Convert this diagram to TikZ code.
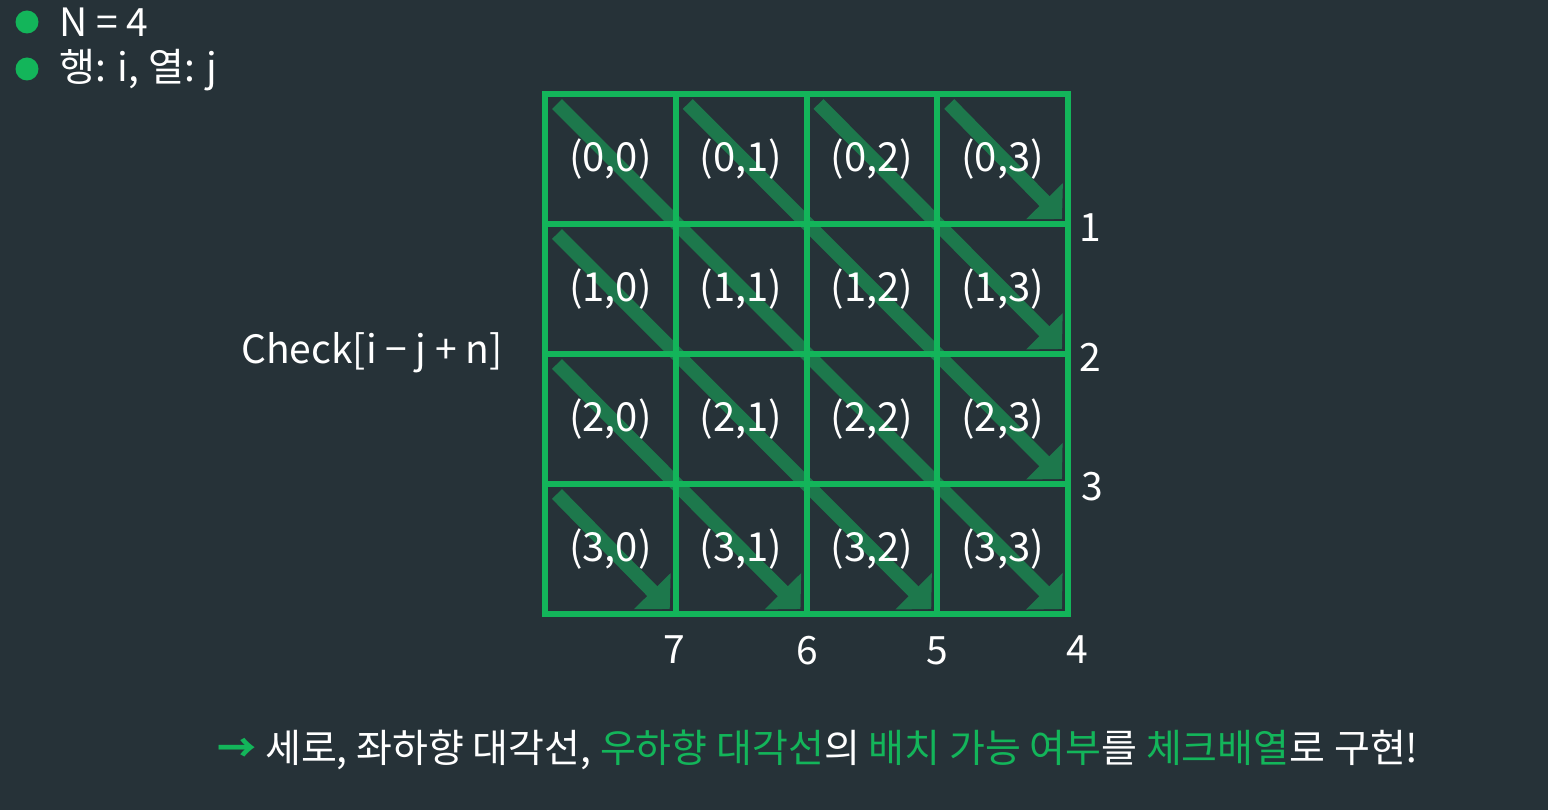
\documentclass[tikz,border=0pt]{standalone}
\usepackage{fontspec}
\setmainfont{Noto Sans CJK KR}
\usepackage{tikz}
\usetikzlibrary{calc,arrows.meta}

\definecolor{slate}{RGB}{38,50,56}
\definecolor{brightgreen}{RGB}{19,181,90}
\definecolor{diaggreen}{RGB}{29,120,76}

\pgfdeclarelayer{canvas}
\pgfdeclarelayer{behind}
\pgfsetlayers{canvas,behind,main}

\tikzset{
	cell/.style={draw=brightgreen, line width=6pt, minimum width=130.75pt, minimum height=130pt,
		inner sep=0pt, text=white, font=\fontsize{40}{44}\selectfont},
	diag/.style={draw=diaggreen, line width=14pt, -{Triangle[length=25pt, width=50pt]}},
	label/.style={text=white, font=\fontsize{39}{44}\selectfont},
	dot/.style={circle, fill=brightgreen, minimum size=23pt, inner sep=0pt}
}

\begin{document}
\begin{tikzpicture}[x=1pt, y=-1pt]
			\useasboundingbox (0, 0) rectangle (1548, 810);
			\begin{pgfonlayer}{canvas}
				\fill[slate] (0, 0) rectangle (1548, 810);
			\end{pgfonlayer}
			\foreach \i in {0, ..., 3}
				\foreach \j in {0, ..., 3}
					\node[cell] (c\i\j) at ({545 + (\j + 0.5) * 130.75}, {94 + (\i + 0.5) * 130}) {(\i,\j)};
			\begin{pgfonlayer}{behind}
				\foreach \si/\sj/\ei/\ej in {0/0/3/3, 0/1/2/3, 0/2/1/3, 0/3/0/3, 1/0/3/2, 2/0/3/1, 3/0/3/0} {
					\coordinate (s\si\sj) at ($(c\si\sj.north west) + (15, 13)$);
					\coordinate (e\ei\ej) at ($(c\ei\ej.south east) + (-9, -8)$);
					\draw[diag] (s\si\sj) -- (e\ei\ej);
				}
			\end{pgfonlayer}
			\node[dot] (dot1) at (27, 22) {};
			\node[dot] (dot2) at (27, 69) {};
			\node[label, anchor=west] (size) at (56, 22) {N = 4};
			\node[label, anchor=west] (axes) at (56, 70) {행: i, 열: j};
			\node[label] (check) at (372, 353) {Check[i − j + n]};
			\node[label] (d1) at (1090, 228) {1};
			\node[label] (d2) at (1090, 357) {2};
			\node[label] (d3) at (1092, 487) {3};
			\node[label] (d4) at (1077, 650) {4};
			\node[label] (d5) at (937, 651) {5};
			\node[label] (d6) at (807, 651) {6};
			\node[label] (d7) at (674, 650) {7};
			\node[label] (summary) at (818, 750) {\textcolor{brightgreen}{\textbf{→}} 세로, 좌하향 대각선, \textcolor{brightgreen}{우하향 대각선}의 \textcolor{brightgreen}{배치 가능 여부}를 \textcolor{brightgreen}{체크배열}로 구현!};
		\end{tikzpicture}
\end{document}
